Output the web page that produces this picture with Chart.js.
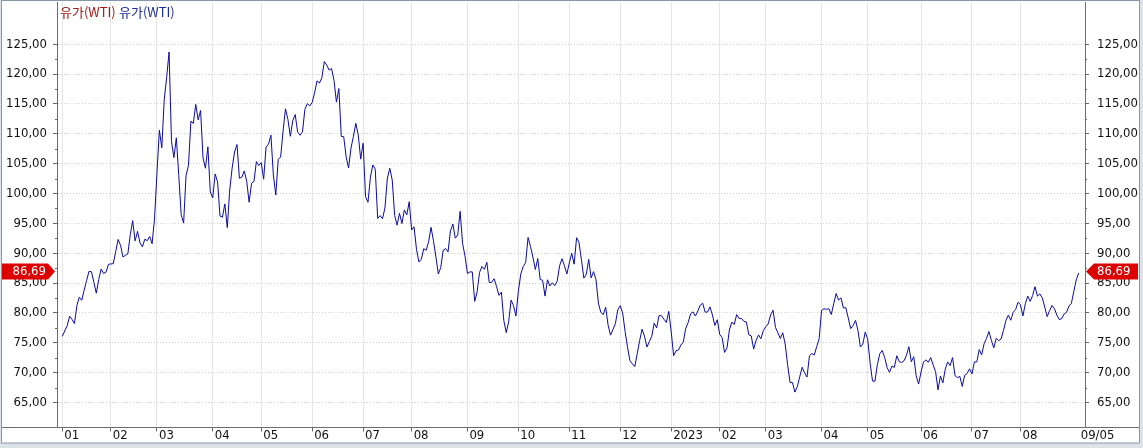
<!DOCTYPE html>
<html><head><meta charset="utf-8">
<script src="https://cdn.jsdelivr.net/npm/chart.js@4.4.0/dist/chart.umd.min.js"></script>
<style>html,body{margin:0;padding:0;background:#dde2e8;overflow:hidden}canvas{display:block}</style>
</head><body>
<canvas id="c" width="1143" height="448" style="width:1143px;height:448px"></canvas>
<script>
// ---------------- data ----------------
const seriesName = '유가(WTI)';
// WTI daily close, one value per trading day (Jan 3, 2022 ... Sep 5, 2023)
const wti = [
 76.08,76.99,77.85,79.46,78.90,78.23,81.22,82.64,82.12,83.82,85.43,86.96,86.90,85.14,83.31,85.60,87.35,86.61,86.82,88.15,
 88.20,88.26,90.27,92.31,91.32,89.36,89.66,89.88,93.10,95.46,92.07,93.66,91.76,91.07,92.35,92.10,92.81,91.59,95.72,
 103.41,110.60,107.67,115.68,119.40,123.70,108.70,106.02,109.33,103.01,96.44,95.04,102.98,104.70,112.12,111.76,114.93,112.34,113.90,105.96,104.24,107.82,100.28,
 99.27,103.28,101.96,96.23,96.03,98.26,94.29,100.60,104.25,106.95,108.21,102.56,102.75,103.79,102.07,98.54,101.70,102.02,105.36,104.69,
 105.17,102.41,107.81,108.26,109.77,103.09,99.76,105.71,106.13,110.49,114.20,112.40,109.59,112.21,113.23,110.29,109.77,110.33,114.09,115.07,114.67,
 115.26,116.87,118.87,118.50,119.41,122.11,121.51,120.67,120.93,118.93,115.31,117.59,109.56,109.52,106.19,104.27,107.62,109.57,111.76,109.78,105.76,
 108.43,99.50,98.53,102.73,104.79,104.09,95.84,96.30,95.78,97.59,102.60,104.22,102.26,96.35,94.70,96.70,94.98,97.26,96.42,98.62,
 93.89,94.42,90.66,88.54,89.01,90.76,90.50,91.93,94.34,92.09,89.41,86.53,87.59,90.50,90.77,90.23,93.74,94.89,92.52,93.06,97.01,91.64,89.55,
 86.61,86.87,86.88,81.94,83.54,86.79,87.78,87.31,88.48,85.10,85.11,85.73,84.45,82.94,83.49,78.74,76.71,78.50,82.15,81.23,79.49,
 83.63,86.52,87.76,88.45,92.64,91.13,89.35,87.27,89.11,85.61,85.46,82.82,85.55,84.51,85.05,84.58,85.32,87.91,89.08,87.90,86.53,
 88.37,90.00,88.17,92.61,91.79,88.91,85.83,86.47,88.96,85.87,86.92,85.59,81.64,80.08,79.73,80.95,77.94,76.28,77.24,78.20,80.55,
 81.22,79.98,76.93,74.25,72.01,71.46,71.02,73.17,75.39,77.28,76.11,74.29,75.19,76.09,78.29,77.49,79.56,79.53,78.96,78.40,80.26,
 76.93,72.84,73.67,73.77,74.63,75.12,77.41,78.39,79.86,80.18,79.48,80.33,81.31,81.62,80.13,80.15,81.01,79.68,77.90,78.87,
 76.41,75.88,73.39,74.11,77.14,78.47,78.06,79.72,79.06,79.06,78.59,78.49,76.34,76.16,73.95,75.39,76.32,75.68,77.05,
 77.69,78.16,79.68,80.46,77.58,76.66,75.72,76.68,74.80,71.33,68.35,68.35,66.74,67.64,69.33,70.90,69.96,69.26,72.81,73.20,72.97,74.37,75.67,
 80.42,80.71,80.61,80.70,79.74,81.53,83.26,82.16,82.52,80.83,80.86,79.16,77.37,77.87,78.76,77.07,74.30,74.76,76.78,
 75.66,71.66,68.60,68.56,71.34,73.16,73.71,72.56,70.87,70.04,71.11,70.86,72.83,71.86,71.69,71.99,72.91,74.34,71.83,72.67,69.46,68.09,
 70.10,71.74,72.15,71.74,72.53,71.29,70.17,67.12,69.42,68.27,70.62,71.78,71.19,72.53,69.51,69.16,69.37,67.70,69.56,69.86,70.64,
 69.79,71.79,71.80,73.86,72.99,74.83,75.75,76.89,75.42,74.15,75.75,75.35,75.63,77.07,78.74,79.63,78.78,80.09,80.58,81.80,
 81.37,79.49,81.55,82.82,81.94,82.92,84.40,82.82,83.19,82.51,80.99,79.38,80.39,81.25,80.72,79.64,78.89,79.05,79.83,80.10,81.16,81.63,83.63,
 85.55,86.69
];
// trading-day index of the first session of each month, and its label
const monthStartDay = [0,20,39,62,82,103,124,144,167,188,209,230,251,271,290,313,332,354,375,395];
const monthLabels   = ['01','02','03','04','05','06','07','08','09','10','11','12','2023','02','03','04','05','06','07','08'];
const lastLabel = '09/05';
const yTicks = [65,70,75,80,85,90,95,100,105,110,115,120,125];

// ---------------- chart ----------------
const AXIS_FONT = {family:"'Liberation Sans Narrow','DejaVu Sans Condensed',sans-serif", size:13};
const FONT_CSS = "13px 'Liberation Sans Narrow','DejaVu Sans Condensed',sans-serif";
const lastDay = wti.length - 1;
const xTickValues = monthStartDay.concat([lastDay]);
const xTickText = monthLabels.concat([lastLabel]);
const fmt = v => v.toFixed(2).replace('.', ',');
const noPad = s => { s.paddingTop = 0; s.paddingBottom = 0; s.paddingLeft = 0; s.paddingRight = 0; };

const frame = {
  id:'frame',
  beforeDraw(chart){
    const c = chart.ctx;
    c.save();
    c.fillStyle = '#dde2e8'; c.fillRect(0,0,chart.width,chart.height);
    c.fillStyle = '#ffffff'; c.fillRect(2,1,1137,442);
    c.restore();
  },
  afterDraw(chart){
    const c = chart.ctx, ys = chart.scales.y, a = chart.chartArea;
    c.save();
    // full-width bottom axis line
    c.strokeStyle = '#6d6d6d'; c.lineWidth = 1;
    c.beginPath(); c.moveTo(2, Math.round(a.bottom)+0.5); c.lineTo(1139, Math.round(a.bottom)+0.5); c.stroke();
    // minor ticks
    c.strokeStyle = '#666';
    for (let i=0;i<yTicks.length-1;i++){
      const py = Math.round(ys.getPixelForValue((yTicks[i]+yTicks[i+1])/2))+0.5;
      c.beginPath(); c.moveTo(a.left-2, py); c.lineTo(a.left, py); c.stroke();
      c.beginPath(); c.moveTo(a.right, py); c.lineTo(a.right+2, py); c.stroke();
    }
    // legend texts
    c.font = "13px 'Noto Sans CJK KR', sans-serif";
    c.textBaseline = 'middle'; c.textAlign = 'left';
    c.fillStyle = '#a31919'; c.fillText(seriesName, 60, 12);
    c.fillStyle = '#1f2a9a'; c.fillText(seriesName, 119, 12);
    // last-value tags
    const v = wti[lastDay];
    const cy = Math.round(ys.getPixelForValue(v)) - 1.5;
    const h = 16;
    c.fillStyle = '#dc0000';
    c.beginPath();
    c.moveTo(1, cy-h/2); c.lineTo(48, cy-h/2); c.lineTo(55, cy); c.lineTo(48, cy+h/2); c.lineTo(1, cy+h/2); c.closePath(); c.fill();
    c.beginPath();
    c.moveTo(1138, cy-h/2); c.lineTo(1094, cy-h/2); c.lineTo(1086, cy); c.lineTo(1094, cy+h/2); c.lineTo(1138, cy+h/2); c.closePath(); c.fill();
    c.fillStyle = '#ffffff'; c.font = FONT_CSS;
    c.textAlign = 'right'; c.fillText(fmt(v), 46, cy+0.5);
    c.textAlign = 'left'; c.fillText(fmt(v), 1097, cy+0.5);
    // outer frame
    c.strokeStyle = '#8797a8'; c.lineWidth = 1;
    c.strokeRect(1.5, 0.5, 1138, 442.5);
    c.restore();
  }
};

new Chart(document.getElementById('c'), {
  type:'line',
  data:{datasets:[{
    label: seriesName,
    data: wti.map((v,i)=>({x:i, y:v})),
    borderColor:'#0b0b9e', borderWidth:1, pointRadius:0, tension:0, fill:false
  }]},
  options:{
    responsive:false, animation:false, devicePixelRatio:1,
    layout:{padding:{top:2,left:0,right:0,bottom:0}},
    plugins:{legend:{display:false}, tooltip:{enabled:false}},
    scales:{
      x:{
        type:'linear', min:-2.2, max:421.6,
        afterFit(s){ s.height = 21.5; noPad(s); },
        afterBuildTicks(s){ s.ticks = xTickValues.map(v=>({value:v})); },
        ticks:{autoSkip:false, maxRotation:0, minRotation:0, align:'start', labelOffset:2, padding:-4,
               color:'#111', font:AXIS_FONT, callback:(v,i)=>xTickText[i]},
        grid:{
          color:c=> (c.tick && c.tick.value===lastDay) ? 'rgba(0,0,0,0)' : '#e6e6e6',
          tickColor:c=> (c.tick && c.tick.value===lastDay) ? 'rgba(0,0,0,0)' : '#666',
          tickLength:5, lineWidth:1
        },
        border:{display:false}
      },
      y:{
        position:'left', min:60.98, max:132.08,
        afterFit(s){ s.width = 57; noPad(s); },
        afterBuildTicks(s){ s.ticks = yTicks.map(v=>({value:v})); },
        ticks:{color:'#111', font:AXIS_FONT, padding:6, callback:v=>fmt(v)},
        grid:{color:'#cfcfcf', tickColor:'#666', tickLength:4, lineWidth:1},
        border:{display:true, color:'#6d6d6d', dash:[1,2]}
      },
      y2:{
        position:'right', min:60.98, max:132.08,
        afterFit(s){ s.width = 58; noPad(s); },
        afterBuildTicks(s){ s.ticks = yTicks.map(v=>({value:v})); },
        ticks:{color:'#111', font:AXIS_FONT, padding:8, callback:v=>fmt(v)},
        grid:{drawOnChartArea:false, tickColor:'#666', tickLength:4},
        border:{display:true, color:'#6d6d6d'}
      }
    }
  },
  plugins:[frame]
});
</script>
</body></html>
